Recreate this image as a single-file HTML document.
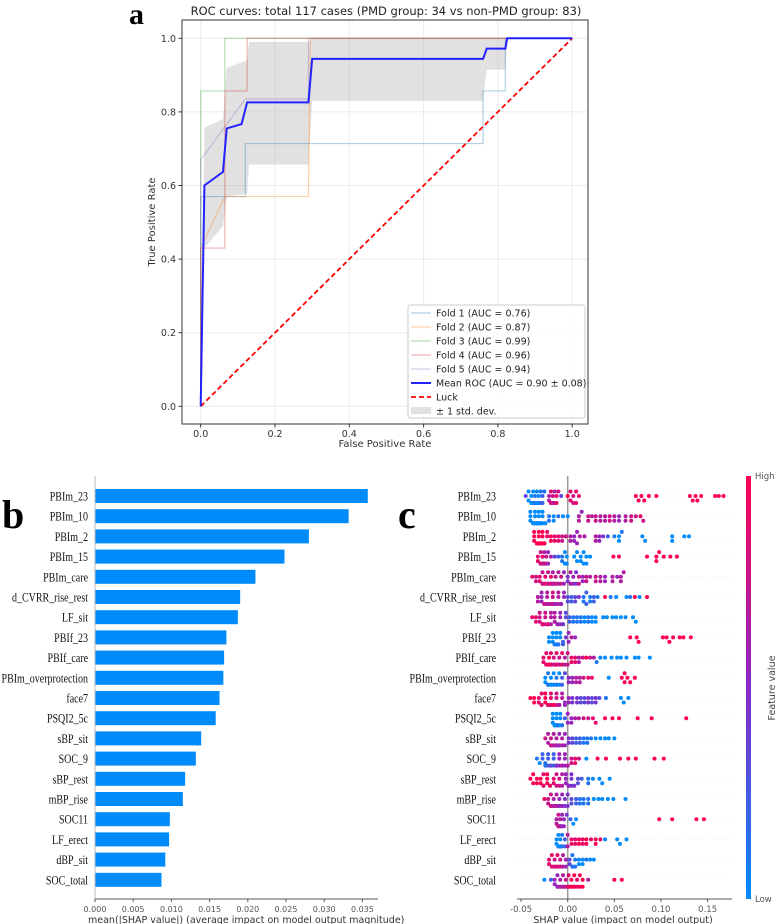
<!DOCTYPE html>
<html><head><meta charset="utf-8"><style>
html,body{margin:0;padding:0;background:#fff;width:778px;height:924px;overflow:hidden}
svg{display:block}
.dj{font-family:"DejaVu Sans","Liberation Sans",sans-serif}
.sf{font-family:"Liberation Serif",serif}
</style></head><body>
<svg id="fig" width="778" height="924" viewBox="0 0 778 924" xmlns="http://www.w3.org/2000/svg">
<g id="pa"></g>
<g id="pb"></g>
<g id="pc"></g>
</svg>
<script>
// ---------- Panel a data ----------
const fold1X=[0,0,0.12,0.12,0.76,0.76,0.82,0.82,1];
const fold1Y=[0,0.57,0.57,0.714,0.714,0.857,0.857,1,1];
const fold2X=[0,0,0.065,0.29,0.295,1];
const fold2Y=[0,0.43,0.57,0.57,1,1];
const fold3X=[0,0,0.065,0.065,1];
const fold3Y=[0,0.857,0.857,1,1];
const fold4X=[0,0,0.065,0.065,0.125,0.125,1];
const fold4Y=[0,0.43,0.43,0.857,0.857,1,1];
const fold5X=[0,0,0.12,0.29,0.29,1];
const fold5Y=[0,0.67,0.835,0.835,1,1];
const meanX=[0,0.01,0.06,0.07,0.11,0.125,0.29,0.30,0.76,0.77,0.82,0.825,1];
const meanY=[0,0.6,0.637,0.755,0.767,0.826,0.826,0.944,0.944,0.972,0.972,1,1];
const bandX=[0,0.01,0.06,0.07,0.11,0.125,0.13,0.29,0.30,0.76,0.77,0.82,0.825,1];
const bandLo=[0,0.43,0.49,0.57,0.575,0.58,0.657,0.657,0.83,0.83,0.915,0.915,1,1];
const bandHi=[0,0.757,0.78,0.92,0.935,0.94,0.99,0.99,1,1,1,1,1,1];
const rocTicks=[0,0.2,0.4,0.6,0.8,1.0];
const legendLabels=["Fold 1 (AUC = 0.76)","Fold 2 (AUC = 0.87)","Fold 3 (AUC = 0.99)","Fold 4 (AUC = 0.96)","Fold 5 (AUC = 0.94)","Mean ROC (AUC = 0.90 ± 0.08)","Luck","± 1 std. dev."];

// ---------- Panel b/c data ----------
const features=["PBIm_23","PBIm_10","PBIm_2","PBIm_15","PBIm_care","d_CVRR_rise_rest","LF_sit","PBIf_23","PBIf_care","PBIm_overprotection","face7","PSQI2_5c","sBP_sit","SOC_9","sBP_rest","mBP_rise","SOC11","LF_erect","dBP_sit","SOC_total"];
const meanAbs=[0.0357,0.0332,0.0280,0.0248,0.0210,0.0190,0.0187,0.0172,0.0169,0.0168,0.0163,0.0158,0.0139,0.0132,0.0118,0.0115,0.0098,0.0097,0.0092,0.0087];
const barTicks=[0,0.005,0.010,0.015,0.020,0.025,0.030,0.035];
const swarmTicks=[-0.05,0,0.05,0.10,0.15];
// SHAP points per feature: "value(x1000):featureValue(0-9):count"
const shapRows=[
"-45:3:1 -42:0:2 -39:0:3 -37:0:4 -35:1:4 -33:0:4 -31:0:4 -29:1:3 -27:2:2 -25:1:1 -20:6:2 -18:8:3 -16:7:3 -14:6:3 -12:8:2 -10:7:1 -7:3:1 0:9:1 3:8:2 6:7:2 9:8:2 12:8:1 73:9:1 76:9:1 79:9:1 82:9:1 87:9:1 95:9:1 131:9:1 134:9:1 137:9:1 139:9:1 143:9:1 158:9:1 162:9:1 167:9:1",
"-40:0:3 -37:0:4 -35:0:5 -33:0:5 -31:0:5 -29:0:4 -27:0:3 -24:0:2 -20:1:2 -15:0:2 -10:1:1 -5:0:1 0:0:1 12:6:2 15:5:1 22:7:2 26:6:1 30:7:2 35:6:2 40:6:2 45:7:2 50:6:2 55:5:2 62:6:2 68:7:2 73:7:1 78:8:1 81:7:1",
"-36:9:3 -33:9:5 -31:9:5 -29:9:5 -27:9:4 -25:9:3 -22:8:2 -18:9:2 -14:8:2 -10:8:2 -6:7:2 -2:7:1 3:6:2 7:5:2 10:5:2 13:6:1 18:6:1 30:6:2 34:5:2 38:4:1 43:2:1 50:1:1 55:0:2 58:1:1 80:0:1 83:0:1 112:0:2 125:0:1 130:0:1",
"-32:8:2 -29:7:3 -27:8:4 -25:6:4 -23:7:3 -21:5:2 -18:6:1 -14:3:1 -10:2:1 -6:1:2 -3:0:3 -1:0:2 7:0:1 10:0:2 14:0:2 17:0:2 20:0:2 24:0:1 49:9:1 55:9:1 85:9:1 95:9:2 98:9:1 103:9:1 110:9:1 117:9:1",
"-38:8:1 -34:7:2 -30:8:2 -27:7:3 -24:8:3 -21:7:4 -18:8:4 -16:6:4 -13:7:3 -10:6:3 -7:7:2 -4:5:2 0:4:2 3:6:2 6:5:2 9:4:2 12:7:2 16:5:2 20:7:2 24:6:1 30:7:2 35:6:2 40:5:2 48:6:2 53:5:1 57:6:2 60:6:1",
"-32:6:2 -28:5:3 -25:7:3 -22:6:4 -19:6:4 -16:7:4 -13:5:3 -10:6:3 -7:5:2 -4:5:2 0:3:2 4:2:2 8:3:2 12:4:1 17:1:2 20:2:2 24:1:2 28:2:2 32:1:1 40:9:1 46:1:1 52:0:1 63:0:1 67:1:1 72:9:1 77:0:1 85:9:1",
"-38:8:1 -34:8:2 -30:7:3 -27:8:3 -24:7:3 -21:8:3 -18:6:3 -14:6:3 -11:5:3 -8:5:3 -5:4:2 -2:3:2 2:2:2 6:1:2 10:1:2 14:1:2 18:0:2 22:1:2 26:0:2 30:0:2 38:0:1 42:0:1 48:0:1 52:0:1 57:0:1 62:0:1 70:0:1 73:0:1",
"-20:0:2 -16:0:3 -14:1:3 -12:0:4 -10:1:3 -8:0:2 -5:2:2 -2:4:1 1:5:2 4:6:1 8:5:1 67:9:1 74:9:1 76:9:1 102:9:1 106:9:1 109:9:1 113:9:1 120:9:1 124:9:1 132:9:1",
"-26:8:2 -23:8:3 -20:9:4 -18:8:4 -15:7:4 -12:8:4 -9:7:3 -6:8:2 -3:6:2 0:7:2 4:8:2 8:8:2 12:6:2 16:7:1 20:9:1 24:7:1 28:6:1 31:1:1 35:0:1 40:0:1 47:0:1 53:0:1 57:0:1 63:0:1 72:0:1 76:0:1 88:0:1",
"-24:0:2 -21:1:3 -18:0:3 -15:0:3 -12:1:3 -9:0:2 -6:2:2 -3:3:1 1:5:2 5:5:2 9:6:2 13:6:2 17:7:1 22:8:1 26:8:1 44:0:1 58:9:1 61:9:2 64:9:1 67:9:1 72:9:1",
"-40:9:1 -36:9:2 -31:8:2 -28:8:3 -24:9:3 -21:8:4 -18:8:4 -15:9:3 -12:7:3 -9:6:3 -6:6:2 -3:5:2 1:5:2 5:4:2 10:4:2 14:3:2 18:3:2 22:4:2 26:3:2 30:4:2 34:3:1 41:1:1 57:0:1 60:0:1 65:0:1",
"-16:0:3 -14:0:4 -12:0:5 -10:1:4 -8:0:3 -6:1:2 -3:2:1 0:5:2 4:5:2 8:6:1 12:6:1 17:7:1 22:7:1 27:8:1 30:8:1 40:9:1 48:9:1 55:9:1 75:9:1 90:9:1 127:9:1",
"-24:7:1 -21:6:2 -18:7:3 -15:6:3 -12:6:4 -9:5:3 -6:6:2 -3:5:2 1:4:2 5:3:2 9:2:2 13:2:2 17:1:2 21:1:2 25:1:1 30:0:1 35:0:1 40:0:1 44:0:1 50:0:1",
"-33:1:1 -30:0:1 -27:2:2 -24:1:2 -21:2:3 -18:3:3 -15:2:3 -12:4:3 -9:5:3 -6:6:3 -3:5:3 0:6:2 4:7:2 8:8:2 12:7:1 20:0:1 32:9:1 41:9:1 56:9:1 65:9:1 73:9:1 93:9:1 103:9:1",
"-40:9:1 -37:9:2 -33:9:2 -29:9:2 -26:8:3 -22:9:3 -19:8:3 -15:8:2 -12:7:2 -9:7:2 -6:6:2 -2:5:3 1:5:4 4:4:3 7:4:2 11:3:2 15:2:1 22:1:2 27:0:1 34:0:1 37:0:1 45:0:1",
"-25:8:1 -21:7:2 -18:7:3 -15:6:3 -12:6:4 -9:5:4 -6:5:3 -3:4:2 0:4:2 4:3:2 9:2:2 13:1:2 17:1:2 22:1:2 28:0:1 33:0:1 37:0:1 43:0:1 49:0:1 62:0:1",
"-12:6:2 -10:7:3 -8:6:4 -6:5:3 -4:5:2 -1:4:1 3:2:1 6:0:1 9:0:1 98:9:1 112:9:1 138:9:1 146:9:1",
"-12:0:2 -10:0:4 -8:0:5 -6:1:3 -3:2:2 0:6:2 4:8:2 8:8:2 12:9:2 16:8:2 20:9:2 25:8:1 30:9:2 35:8:1 40:0:1 53:0:1 56:0:1 63:0:1",
"-20:8:2 -17:8:2 -14:7:3 -11:8:3 -8:7:3 -5:6:2 -2:5:2 2:3:2 5:1:3 8:1:2 12:0:2 16:0:2 20:1:1 24:0:1 28:0:1",
"-25:0:1 -18:2:1 -14:5:2 -11:5:3 -8:6:3 -5:6:3 -2:7:3 1:8:3 4:9:3 7:9:3 10:8:2 13:9:2 16:9:2 22:6:1 50:9:1 58:9:1"
];

const NS="http://www.w3.org/2000/svg";
function mk(parent,tag,attrs,text){const e=document.createElementNS(NS,tag);for(const k in attrs)e.setAttribute(k,attrs[k]);if(text!==undefined)e.textContent=text;parent.appendChild(e);return e;}

// ---------- Panel a ----------
(function(){
const g=document.getElementById('pa');
const L=182,T=20,R=588,B=424;
const x=v=>200.7+v*371.5, y=v=>406.3-v*368;
let e=mk(g,'text',{x:129,y:24,'font-size':30,'font-weight':'bold',class:'sf'},'a');

e=mk(g,'text',{x:386,y:15,'font-size':11.5,'text-anchor':'middle',class:'dj',fill:'#222'},'ROC curves: total 117 cases (PMD group: 34 vs non-PMD group: 83)');

rocTicks.forEach(t=>{
 e=mk(g,'line',{x1:x(t),x2:x(t),y1:T,y2:B,stroke:'#ebebeb','stroke-width':1});
 
 e=mk(g,'line',{x1:L,x2:R,y1:y(t),y2:y(t),stroke:'#ebebeb','stroke-width':1});
 
 e=mk(g,'line',{x1:x(t),x2:x(t),y1:B,y2:B+3.5,stroke:'#333'});
 e=mk(g,'text',{x:x(t),y:B+13,'font-size':9.5,'text-anchor':'middle',class:'dj',fill:'#333'},t.toFixed(1));
 
 e=mk(g,'line',{x1:L-3.5,x2:L,y1:y(t),y2:y(t),stroke:'#333'});
 e=mk(g,'text',{x:L-6,y:y(t)+3.5,'font-size':9.5,'text-anchor':'end',class:'dj',fill:'#333'},t.toFixed(1));
 
});
let d='M'+bandX.map((v,i)=>x(v)+','+y(bandHi[i])).join('L');
for(let i=bandX.length-1;i>=0;i--)d+='L'+x(bandX[i])+','+y(bandLo[i]);
e=mk(g,'path',{d:d+'Z',fill:'#bdbdbd','fill-opacity':0.45,stroke:'none'});

const folds=[[fold1X,fold1Y,'#1f77b4'],[fold2X,fold2Y,'#ff7f0e'],[fold3X,fold3Y,'#2ca02c'],[fold4X,fold4Y,'#d62728'],[fold5X,fold5Y,'#9467bd']];
folds.forEach((f,k)=>{
 e=mk(g,'polyline',{points:f[0].map((v,i)=>x(v)+','+y(f[1][i])).join(' '),fill:'none',stroke:f[2],'stroke-opacity':0.35,'stroke-width':1.2});
 
});
e=mk(g,'line',{x1:x(0),y1:y(0),x2:x(1),y2:y(1),stroke:'#ff0000','stroke-width':1.8,'stroke-dasharray':'5,3'});

e=mk(g,'polyline',{points:meanX.map((v,i)=>x(v)+','+y(meanY[i])).join(' '),fill:'none',stroke:'#2222ff','stroke-width':2});

e=mk(g,'rect',{x:L,y:T,width:R-L,height:B-T,fill:'none',stroke:'#333','stroke-width':1});

e=mk(g,'text',{x:385,y:447,'font-size':10,'text-anchor':'middle',class:'dj',fill:'#333'},'False Positive Rate');

e=mk(g,'text',{x:0,y:0,'font-size':10,'text-anchor':'middle',class:'dj',fill:'#333',transform:'translate(155,222) rotate(-90)'},'True Positive Rate');

const lg=mk(g,'g',{});

mk(lg,'rect',{x:408,y:305,width:177,height:113,fill:'#fff','fill-opacity':0.85,stroke:'#ccc',rx:2});
const cols=['#1f77b4','#ff7f0e','#2ca02c','#d62728','#9467bd'];
legendLabels.forEach((lab,i)=>{
 const yy=313+i*14;
 if(i<5) mk(lg,'line',{x1:411,x2:431,y1:yy,y2:yy,stroke:cols[i],'stroke-opacity':0.35,'stroke-width':1.2});
 else if(i==5) mk(lg,'line',{x1:411,x2:431,y1:yy,y2:yy,stroke:'#2222ff','stroke-width':2});
 else if(i==6) mk(lg,'line',{x1:411,x2:431,y1:yy,y2:yy,stroke:'#ff0000','stroke-width':1.8,'stroke-dasharray':'5,3'});
 else mk(lg,'rect',{x:411,y:yy-4,width:20,height:7,fill:'#bdbdbd','fill-opacity':0.45});
 const t=mk(lg,'text',{x:436,y:yy+3.5,'font-size':9.5,class:'dj',fill:'#222'},lab);
 
});
})();

// ---------- Panel b ----------
const rowY=i=>496+i*20.2;
function featLabel(g,xr,yy,txt){
 const e=mk(g,'text',{x:0,y:0,'font-size':12.5,'text-anchor':'end',class:'sf',fill:'#111',transform:'translate('+xr+','+(yy+4.5)+') scale(0.8,1)'},txt);
 
}
(function(){
const g=document.getElementById('pb');
const x=v=>95+v*7640;
let e=mk(g,'text',{x:2,y:528,'font-size':40,'font-weight':'bold',class:'sf'},'b');

features.forEach((f,i)=>{
 e=mk(g,'rect',{x:x(0),y:rowY(i)-7,width:x(meanAbs[i])-x(0),height:14,fill:'#008bfb'});
 
 featLabel(g,88,rowY(i),f);
});
mk(g,'line',{x1:95,x2:95,y1:476,y2:899,stroke:'#bbb'});
mk(g,'line',{x1:95,x2:378,y1:899,y2:899,stroke:'#555'});
barTicks.forEach(t=>{
 mk(g,'line',{x1:x(t),x2:x(t),y1:899,y2:902,stroke:'#555'});
 e=mk(g,'text',{x:x(t),y:912,'font-size':8,'text-anchor':'middle',class:'dj',fill:'#555'},t.toFixed(3));
 
});
e=mk(g,'text',{x:88,y:923,'font-size':9.5,class:'dj',fill:'#333'},'mean(|SHAP value|) (average impact on model output magnitude)');

})();

// ---------- Panel c ----------
(function(){
const g=document.getElementById('pc');
const x=v=>567.7+v*933;
let e=mk(g,'text',{x:398,y:528,'font-size':40,'font-weight':'bold',class:'sf'},'c');

function col(c){const t=c/9;const a=[0,139,251],m=[138,40,200],b=[255,0,81];
 let r;if(t<0.5){const s=t*2;r=a.map((v,i)=>v+(m[i]-v)*s);}else{const s=(t-0.5)*2;r=m.map((v,i)=>v+(b[i]-v)*s);}
 return 'rgb('+r.map(Math.round).join(',')+')';}
features.forEach((f,i)=>{
 mk(g,'line',{x1:517,x2:732,y1:rowY(i),y2:rowY(i),stroke:'#f0f0f0','stroke-dasharray':'1,2'});
 featLabel(g,496,rowY(i),f);
});
mk(g,'line',{x1:x(0),x2:x(0),y1:476,y2:899,stroke:'#999','stroke-width':1.5});
features.forEach((f,i)=>{
 const pts=[];
 shapRows[i].split(' ').forEach(s=>{const p=s.split(':');const n=+p[2];for(let k=0;k<n;k++)pts.push([+p[0]/1000,+p[1]]);});
 const placed=[];const r=2,dd=2*r-0.7;
 pts.sort((a,b)=>a[0]-b[0]);
 const rg=mk(g,'g',{});
 
 pts.forEach(p=>{
  const px=x(p[0]);let off=0;
  for(let k=0;k<12;k++){const o=(k%2?1:-1)*Math.ceil(k/2)*1.5;
   if(!placed.some(q=>Math.abs(q[0]-px)<dd&&Math.abs(q[1]-o)<dd)){off=o;break;} off=o;}
  off=Math.max(-7,Math.min(7,off));
  placed.push([px,off]);
  const c=mk(rg,'circle',{cx:px,cy:rowY(i)+off,r:r,fill:col(p[1])});
  
 });
});
mk(g,'line',{x1:517,x2:732,y1:899,y2:899,stroke:'#555'});
swarmTicks.forEach(t=>{
 mk(g,'line',{x1:x(t),x2:x(t),y1:899,y2:902,stroke:'#555'});
 e=mk(g,'text',{x:x(t),y:912,'font-size':8.5,'text-anchor':'middle',class:'dj',fill:'#555'},t.toFixed(2));
 
});
e=mk(g,'text',{x:623,y:923,'font-size':9.5,'text-anchor':'middle',class:'dj',fill:'#333'},'SHAP value (impact on model output)');

const defs=mk(g,'defs',{});const lgd=mk(defs,'linearGradient',{id:'cb',x1:0,y1:1,x2:0,y2:0});
mk(lgd,'stop',{offset:0,'stop-color':'rgb(0,139,251)'});mk(lgd,'stop',{offset:0.5,'stop-color':'rgb(138,40,200)'});mk(lgd,'stop',{offset:1,'stop-color':'rgb(255,0,81)'});
e=mk(g,'rect',{x:746,y:476,width:5,height:423,fill:'url(#cb)'});

e=mk(g,'text',{x:755,y:479,'font-size':8.5,class:'dj',fill:'#555'},'High');

e=mk(g,'text',{x:755,y:902,'font-size':8.5,class:'dj',fill:'#555'},'Low');

e=mk(g,'text',{x:0,y:0,'font-size':9.5,'text-anchor':'middle',class:'dj',fill:'#444',transform:'translate(775,688) rotate(-90)'},'Feature value');

})();
</script>
</body></html>
